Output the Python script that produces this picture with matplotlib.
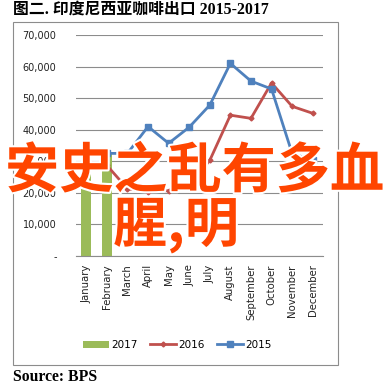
import numpy as np
import matplotlib.pyplot as plt
import matplotlib.patheffects as pe
from matplotlib.patches import Rectangle

months = ['January', 'February', 'March', 'April', 'May', 'June', 'July',
          'August', 'September', 'October', 'November', 'December']
exp_2017 = [35500, 33000]
exp_2016 = [30000, 28700, 21300, 20400, 20700, 22300, 30300,
            44600, 43600, 54800, 47400, 45200]
exp_2015 = [33000, 32500, 32500, 41000, 35700, 40800, 47800,
            61000, 55400, 52900, 32500, 30300]
yticks = [0, 10000, 20000, 30000, 40000, 50000, 60000, 70000]
ytick_labels = ['-', '10,000', '20,000', '30,000', '40,000', '50,000', '60,000', '70,000']

green = '#9BBB59'
red = '#C0504D'
blue = '#4F81BD'

fig = plt.figure(figsize=(3.89, 3.88), dpi=100)
fig.patch.set_facecolor('white')

# chart frame
fig.patches.append(Rectangle((13 / 389, 1 - 365 / 388), 325 / 389, 343 / 388,
                             transform=fig.transFigure, fill=False,
                             edgecolor='#8c8c8c', linewidth=0.8))

ax = fig.add_axes([76 / 389, 1 - 256 / 388, 247 / 389, 221 / 388])
x = np.arange(len(months))
b17 = ax.bar(x[:len(exp_2017)], exp_2017, width=0.5, color=green, label='2017', zorder=2)
l16, = ax.plot(x, exp_2016, color=red, linewidth=2, marker='D', markersize=2.5, label='2016', zorder=3)
l15, = ax.plot(x, exp_2015, color=blue, linewidth=2, marker='s', markersize=4.5, label='2015', zorder=4)

ax.set_xlim(-0.5, 11.5)
ax.set_ylim(0, 70000)
ax.set_yticks(yticks)
ax.set_yticklabels(ytick_labels, fontsize=7, color='#222222')
ax.set_xticks(x)
ax.set_xticklabels(months, rotation=90, fontsize=7.3, color='#222222')
ax.tick_params(axis='both', length=0, pad=14)
ax.tick_params(axis='x', pad=6)
ax.grid(axis='y', color='#8c8c8c', linewidth=0.8, zorder=0)
ax.set_axisbelow(True)
for s in ['left', 'right', 'top']:
    ax.spines[s].set_visible(False)
ax.spines['bottom'].set_color('#8c8c8c')
ax.spines['bottom'].set_linewidth(0.8)

fig.legend([b17, l16, l15], ['2017', '2016', '2015'], loc='center',
           bbox_to_anchor=(0.455, 1 - 345 / 388), ncol=3,
           frameon=False, fontsize=7.5, handlelength=2.5, handletextpad=0.2,
           columnspacing=1.2)

fig.text(13 / 389, 1 - 10 / 388, '图二. 印度尼西亚咖啡出口 2015-2017',
         family=['Liberation Serif', 'Noto Sans CJK SC'], fontweight='bold',
         fontsize=11.4, va='center', ha='left')
fig.text(13 / 389, 1 - 377 / 388, 'Source: BPS', family='Liberation Serif',
         fontweight='bold', fontsize=11.3, va='center', ha='left')

# overlay caption
stroke = [pe.withStroke(linewidth=3, foreground='white')]
fig.text(5 / 389, 1 - 172 / 388, '安史之乱有多血', family=['Noto Sans CJK SC', 'DejaVu Sans'],
         fontweight='bold', fontsize=39, color='#FF4500', va='center', ha='left',
         path_effects=stroke)
fig.text(113 / 389, 1 - 226 / 388, '腥,明', family=['Noto Sans CJK SC', 'DejaVu Sans'],
         fontweight='bold', fontsize=39, color='#FF4500', va='center', ha='left',
         path_effects=stroke)

fig.savefig('out.png', dpi=100)
